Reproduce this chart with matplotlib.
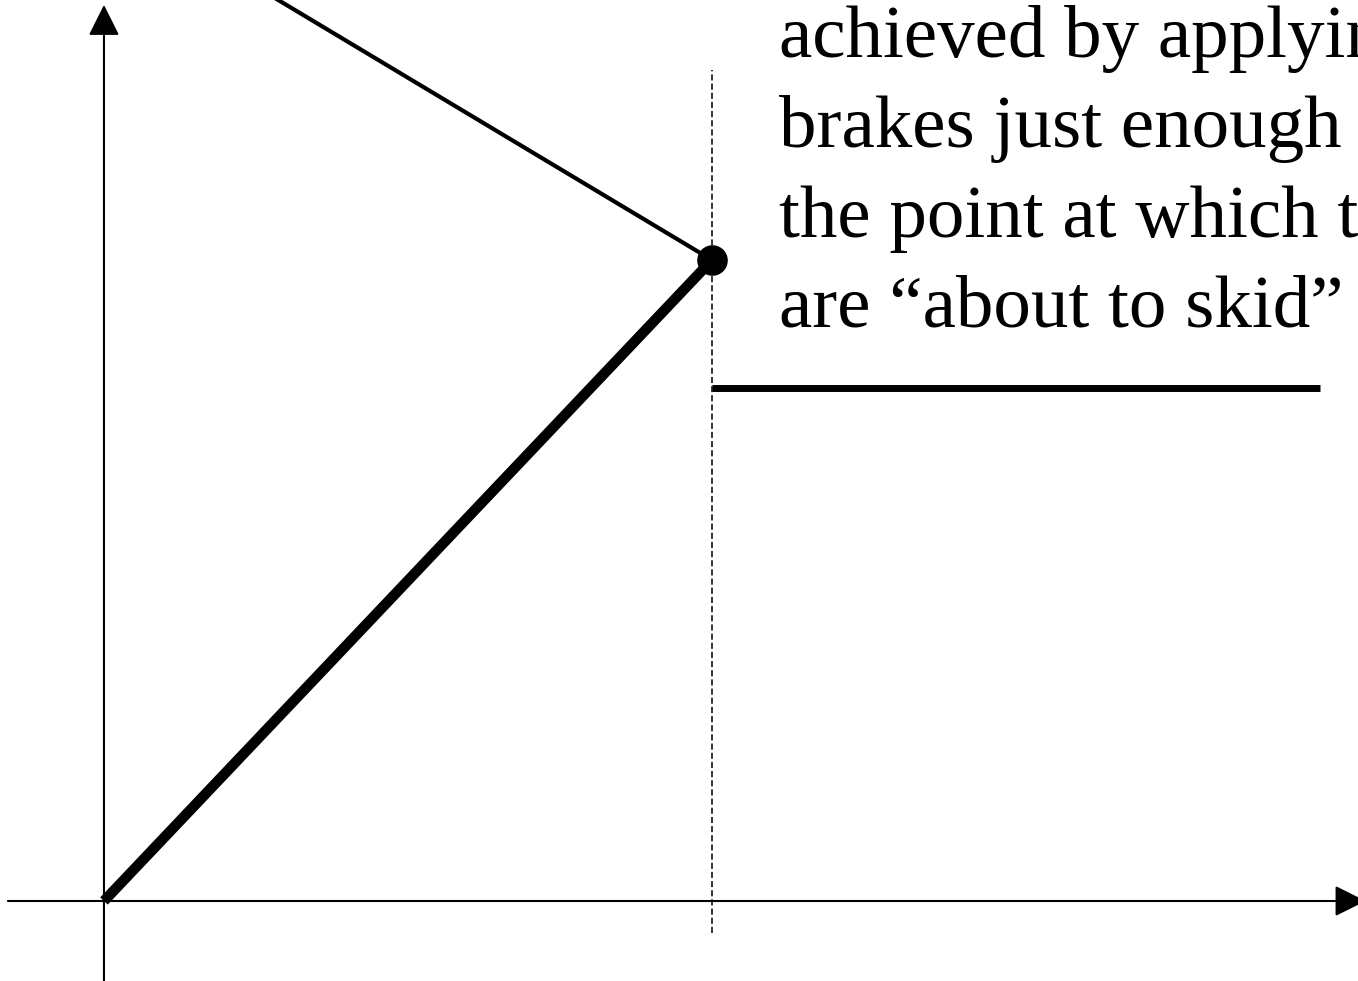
import matplotlib
matplotlib.use('Agg')
import matplotlib.pyplot as plt

# Friction force vs. applied brake force (units: max static friction = 1)
static_x = [0.0, 1.0]
static_y = [0.0, 1.0]
kinetic_x = [1.0, 2.0]
kinetic_y = [0.8, 0.8]
upper_x = [0.27, 1.0]
upper_y = [1.415, 1.0]
peak = (1.0, 1.0)

caption = [
    "achieved by applying the",
    "brakes just enough to reach",
    "the point at which the tires",
    "are \u201cabout to skid\u201d",
]

fig = plt.figure(figsize=(13.58, 9.81), dpi=100)
ax = fig.add_axes([0, 0, 1, 1])
ax.set_xlim(-0.171, 2.0625)
ax.set_ylim(-0.1248, 1.4056)
ax.axis('off')

# axes with arrow heads
arrow = dict(arrowstyle='-|>', mutation_scale=48, lw=1.5, color='black',
             shrinkA=0, shrinkB=0)
ax.annotate('', xy=(0, 1.398), xytext=(0, -0.125), arrowprops=arrow,
            annotation_clip=False)
ax.annotate('', xy=(2.075, 0), xytext=(-0.158, 0), arrowprops=arrow,
            annotation_clip=False)

# dashed marker at the skid point
ax.plot([1.0, 1.0], [-0.05, 1.296], color='black', lw=1.1, ls=(0, (4, 2)))

ax.plot(static_x, static_y, color='black', lw=7.5, solid_capstyle='butt')
ax.plot(upper_x, upper_y, color='black', lw=3)
ax.plot(kinetic_x, kinetic_y, color='black', lw=5, solid_capstyle='butt')
ax.plot(*peak, 'o', color='black', ms=21)

for i, line in enumerate(caption):
    ax.text(1.11, 1.317 - i * 0.1405, line, fontsize=54,
            family='Liberation Serif', va='baseline', ha='left', clip_on=True)

fig.savefig('out.png', dpi=100)
